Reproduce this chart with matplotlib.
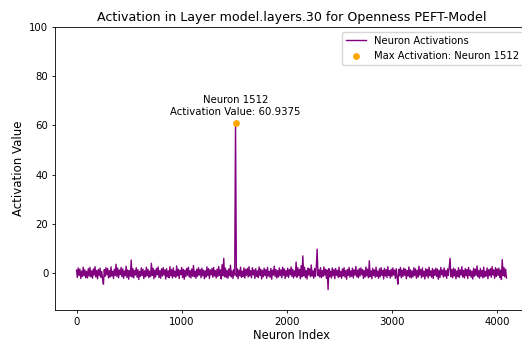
import numpy as np
import matplotlib.pyplot as plt

# activations sampled every 8th neuron (rows of 16 samples = 128 neurons)
activations = [
    1.2, -1.8, 2.1, -0.9, 1.6, -2.2, 0.8, -1.4, 2.4, -1.1, 1.3, -1.9, 0.7, -2.0, 1.8, -1.2,
    2.3, -1.5, 0.9, -2.1, 1.7, -0.8, 2.6, -1.6, 1.1, -2.3, 1.5, -1.0, 2.0, -1.7, 0.6, -2.4,
    -4.5, 1.4, -1.3, 2.2, -0.7, 1.9, -2.0, 1.0, -1.6, 2.5, -1.2, 0.8, -2.2, 1.6, -0.9, 3.6,
    -1.4, 2.0, -1.9, 1.2, -0.6, 2.3, -1.5, 1.7, -2.1, 0.9, -1.1, 2.8, -1.8, 1.3, -2.5, 1.0,
    -1.2, 5.3, -1.6, 1.8, -2.0, 1.1, -0.8, 2.2, -1.7, 1.4, -2.6, 0.7, -1.3, 2.1, -1.0, 1.6,
    -2.2, 0.9, -1.5, 2.4, -1.1, 1.5, -1.9, 0.8, -1.4, 4.0, -0.9, 2.0, -2.3, 1.2, -1.6, 1.9,
    -0.7, 2.5, -1.8, 1.0, -2.1, 1.7, -1.2, 2.2, -0.8, 1.3, -2.4, 1.8, -1.5, 0.9, -1.9, 2.6,
    -1.1, 1.4, -2.0, 2.1, -1.3, 0.8, -1.7, 2.9, -1.0, 1.6, -2.2, 1.1, -0.6, 2.3, -1.8, 1.5,
    -2.5, 1.2, -1.4, 1.9, -0.9, 2.4, -1.6, 1.0, -2.0, 1.7, -1.2, 3.1, -1.5, 0.8, -2.1, 1.6,
    -1.3, 2.2, -0.8, 1.4, -1.9, 2.0, -1.1, 1.2, -2.3, 0.9, -1.6, 2.5, -1.0, 1.8, -2.2, 1.3,
    -0.7, 1.9, -1.7, 2.3, -1.2, 1.0, -2.0, 1.6, -1.4, 2.7, -0.9, 1.3, -2.4, 3.4, -1.1, 6.0,
    -1.5, 2.0, -1.8, 1.1, -2.1, 1.7, -1.0, 3.2, -1.6, 0.9, -2.2, 1.4, -0.8, 60.9375, -1.3, 1.8,
    -2.3, 1.2, -1.1, 2.4, -1.7, 0.8, -1.4, 2.1, -2.0, 1.5, -0.9, 1.9, -1.6, 2.6, -1.2, 1.0,
    -1.9, 2.2, -0.7, 1.3, -2.2, 1.8, -1.3, 0.9, -1.8, 2.5, -1.0, 1.6, -2.4, 1.1, -1.5, 2.0,
    -1.0, 1.4, -2.1, 2.3, -1.2, 0.7, -1.7, 1.9, -2.5, 1.2, -0.8, 2.8, -1.4, 1.5, -2.0, 1.0,
    -1.6, 2.1, -1.1, 1.3, -1.9, 2.4, -0.9, 1.7, -2.2, 1.0, -1.3, 2.0, -1.8, 1.4, -0.7, 2.5,
    -1.4, 1.6, -2.0, 0.9, -1.2, 4.5, -1.7, 2.2, -1.0, 1.5, -2.3, 3.0, -1.5, 7.0, -1.1, 2.4,
    -1.8, 1.1, -2.4, 2.0, -0.8, 1.7, -1.5, 3.3, -1.2, 0.9, -2.1, 1.9, -1.4, 2.6, 9.7, -1.0,
    1.3, -1.6, 2.2, -1.9, 1.0, -1.3, 2.5, -0.8, 1.6, -2.2, 1.2, -6.7, 1.8, -1.5, 0.8, -2.0,
    2.1, -1.1, 1.4, -2.3, 1.9, -0.9, 1.1, -1.8, 2.4, -1.4, 0.7, -2.1, 1.7, -1.2, 2.2, -1.6,
    1.0, -2.5, 1.5, -1.0, 2.3, -1.7, 0.9, -1.3, 2.0, -2.0, 1.3, -0.8, 2.7, -1.5, 1.2, -1.9,
    1.8, -1.2, 2.1, -0.7, 1.4, -2.2, 1.0, -1.6, 2.5, -1.1, 1.6, -1.9, 5.0, -1.4, 0.9, -2.3,
    2.0, -1.0, 1.3, -1.7, 2.4, -1.3, 0.8, -2.1, 1.7, -1.5, 2.2, -0.9, 1.1, -2.4, 1.9, -1.2,
    1.4, -1.8, 2.6, -1.0, 1.0, -2.0, 1.6, -1.3, 2.1, -0.8, 1.2, -2.2, 1.8, -1.6, -4.5, 1.5,
    -1.1, 2.3, -1.9, 1.2, -1.4, 2.0, -0.9, 1.6, -2.3, 1.0, -1.2, 2.5, -1.7, 1.3, -2.0, 0.9,
    -1.5, 2.2, -1.0, 1.7, -2.1, 1.1, -1.6, 2.8, -0.8, 1.4, -1.9, 2.1, -1.3, 0.8, -2.4, 1.8,
    -1.2, 1.5, -2.0, 2.4, -1.1, 0.9, -1.7, 1.9, -2.2, 1.3, -0.9, 2.0, -1.4, 1.6, -2.5, 1.1,
    -1.8, 2.3, -0.7, 1.2, -1.6, 2.1, -1.3, 1.0, -2.1, 1.7, -1.0, 2.5, 6.0, -1.5, 1.4, -1.9,
    2.0, -1.2, 1.6, -2.3, 0.9, -1.4, 2.2, -1.8, 1.3, -0.8, 2.6, -1.6, 1.1, -2.0, 1.8, -1.1,
    1.5, -2.2, 2.3, -1.0, 1.2, -1.7, 0.8, -2.4, 2.0, -1.3, 1.6, -0.9, 2.9, -1.5, 1.0, -2.1,
    1.9, -1.3, 1.1, -2.0, 2.4, -1.6, 0.7, -1.2, 2.1, -2.3, 1.4, -1.0, 1.8, -1.7, 2.6, -0.8,
    1.3, -2.1, 2.2, -1.4, 1.7, -0.9, 2.0, -1.8, 1.2, -2.6, 5.5, -1.1, 2.3, -1.5, 1.6, -2.0,
]
neuron_idx = np.arange(len(activations)) * 8

layer_name = 'model.layers.30'
trait = 'Openness'
max_neuron = 1512
max_value = 60.9375

fig = plt.figure(figsize=(5.22, 3.41), dpi=100)
ax = fig.add_axes([0.1054, 0.0909, 0.906, 0.830])

ax.plot(neuron_idx, activations, color='purple', lw=1.0, label='Neuron Activations')
ax.scatter([max_neuron], [max_value], color='orange', s=15, zorder=3,
           label=f'Max Activation: Neuron {max_neuron}')
ax.annotate(f'Neuron {max_neuron}\nActivation Value: {max_value}',
            xy=(max_neuron, max_value), xytext=(0, 4.5), textcoords='offset points',
            ha='center', va='bottom', fontsize=7.3)

ax.set_ylim(-15, 100)
ax.set_xticks([0, 1000, 2000, 3000, 4000])
ax.set_title(f'Activation in Layer {layer_name} for {trait} PEFT-Model', fontsize=9.1, pad=4.5)
ax.set_xlabel('Neuron Index', fontsize=8.3, labelpad=2)
ax.set_ylabel('Activation Value', fontsize=8.5, labelpad=3)
ax.tick_params(labelsize=7.3, length=2.5, width=0.6, pad=2.2)
for s in ax.spines.values():
    s.set_linewidth(0.6)
ax.legend(loc='upper right', fontsize=7.2)

plt.savefig('out.png', dpi=100)
